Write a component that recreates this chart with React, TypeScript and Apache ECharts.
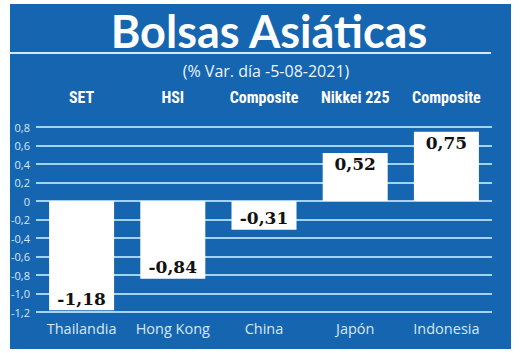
import React, { useEffect, useRef } from "react";
import * as echarts from "echarts";

const countries = ["Thailandia", "Hong Kong", "China", "Japón", "Indonesia"];
const indices = ["SET", "HSI", "Composite", "Nikkei 225", "Composite"];
const changes = [-1.18, -0.84, -0.31, 0.52, 0.75];
const titleText = "Bolsas Asiáticas";
const subtitleText = "(% Var. día -5-08-2021)";

const BLUE = "#1665b0";
const GRID = "#a3d3f1";
const LIGHT = "#d6e8f8";

export default function App() {
  const ref = useRef<HTMLDivElement>(null);
  useEffect(() => {
    if (!ref.current) return;
    const chart = echarts.init(ref.current, null, { renderer: "svg" });
    const fmt = (v: number) => (v === 0 ? "0" : v.toFixed(1).replace(".", ","));
    chart.setOption({
      animation: false,
      backgroundColor: "#ffffff",
      graphic: [
        {
          type: "rect",
          z: -10,
          shape: { x: 10, y: 4, width: 501, height: 345 },
          style: { fill: BLUE },
          silent: true,
        },
        {
          type: "line",
          shape: { x1: 10, y1: 53, x2: 491, y2: 53 },
          style: { stroke: LIGHT, lineWidth: 2 },
          silent: true,
        },
        {
          type: "text",
          x: 269,
          y: 31,
          style: {
            text: titleText,
            fill: "#ffffff",
            font: "bold 45px Lato, 'Open Sans', sans-serif",
            textAlign: "center",
            textVerticalAlign: "middle",
          },
        },
        {
          type: "text",
          x: 266,
          y: 71,
          style: {
            text: subtitleText,
            fill: "#eef5fc",
            font: "16px 'Open Sans', 'Noto Sans', sans-serif",
            textAlign: "center",
            textVerticalAlign: "middle",
          },
        },
      ],
      grid: { left: 36, right: 28, top: 127, bottom: 41, containLabel: false },
      xAxis: [
        {
          type: "category",
          data: countries,
          position: "bottom",
          axisLine: { show: false, onZero: false },
          axisTick: { show: false },
          axisLabel: {
            interval: 0,
            color: LIGHT,
            fontFamily: "'Open Sans', 'Noto Sans', sans-serif",
            fontSize: 14.5,
            margin: 9,
          },
        },
        {
          type: "category",
          data: indices,
          position: "top",
          axisLine: { show: false },
          axisTick: { show: false },
          axisLabel: {
            interval: 0,
            color: "#ffffff",
            fontFamily: "'Liberation Sans Narrow', 'Roboto Condensed', Roboto, sans-serif",
            fontWeight: "bold",
            fontSize: 16,
            margin: 22,
          },
        },
      ],
      yAxis: {
        type: "value",
        min: -1.2,
        max: 0.8,
        interval: 0.2,
        axisLine: { show: false },
        axisTick: { show: false },
        axisLabel: {
          color: LIGHT,
          fontFamily: "'Open Sans', 'Noto Sans', sans-serif",
          fontSize: 11,
          margin: 6,
          formatter: (v: number) => fmt(Math.round(v * 10) / 10),
        },
        splitLine: { show: true, lineStyle: { color: GRID, width: 2, type: "solid" } },
      },
      series: [
        {
          type: "bar",
          xAxisIndex: 0,
          barWidth: 65,
          itemStyle: { color: "#ffffff" },
          data: changes.map((v) => ({
            value: v,
            label: { position: v < 0 ? "insideBottom" : "insideTop" },
          })),
          label: {
            show: true,
            distance: 3,
            color: "#111111",
            fontFamily: "'DejaVu Serif', serif",
            fontWeight: "bold",
            fontSize: 17,
            formatter: (p: any) => String(p.value.toFixed(2)).replace(".", ","),
          },
        },
      ],
    });
    return () => chart.dispose();
  }, []);
  return <div ref={ref} style={{ width: 520, height: 353, position: "absolute", left: 0, top: 0 }} />;
}
